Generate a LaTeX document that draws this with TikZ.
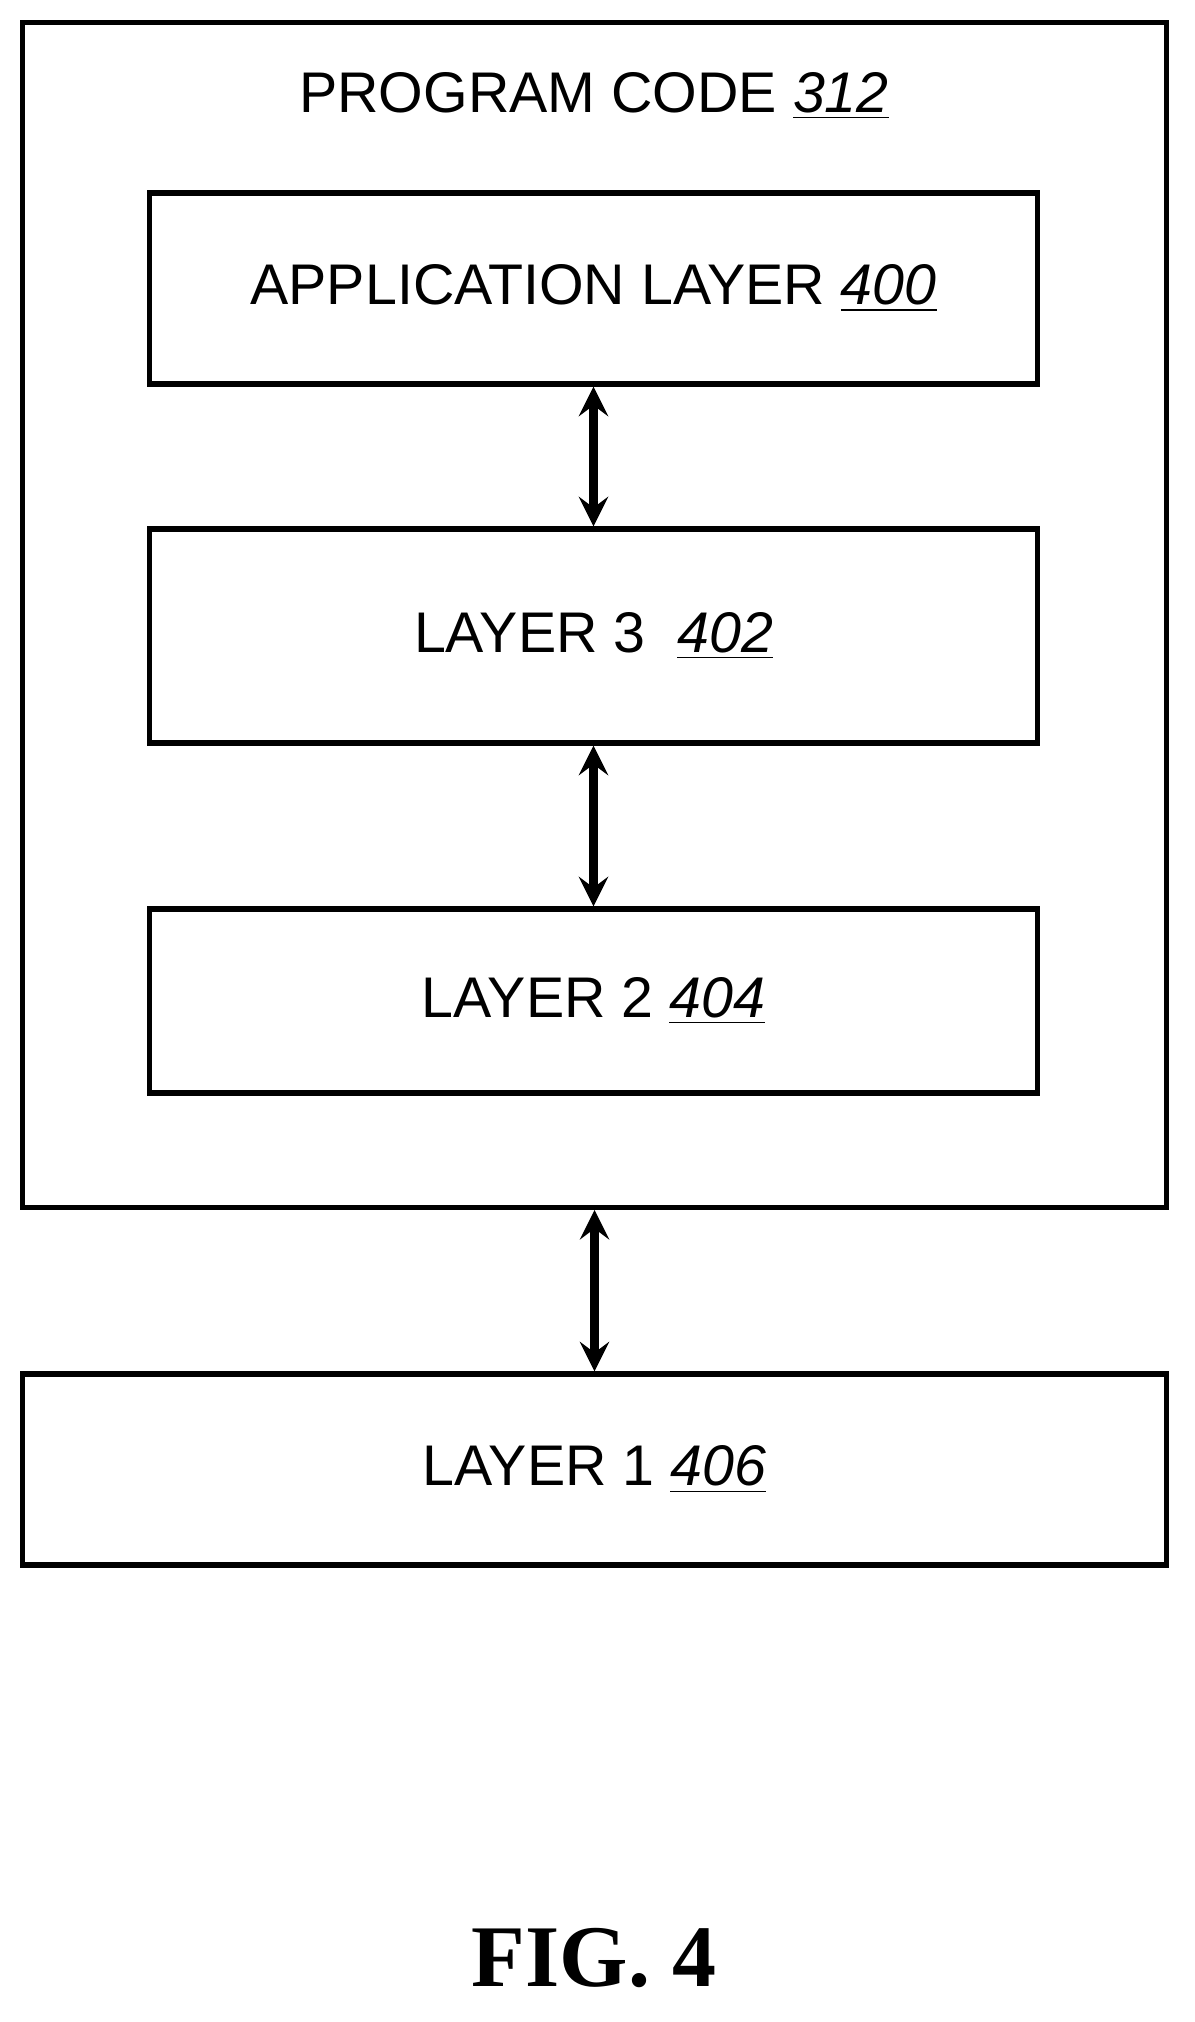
\documentclass[tikz,border=0pt]{standalone}
\usepackage{fontspec}
\setmainfont{Liberation Sans}
\newfontfamily\figfont{Liberation Serif}
\usetikzlibrary{arrows, positioning}
\tikzstyle{BOX}   = [draw=black,       % color for LINES
                     line width=1.5pt, % control line width.
                     rectangle,        % Box shape
                     inner sep=0pt,
                     text centered,
                     font=\fontsize{16.3}{0}\selectfont]
\tikzstyle{ARROW}  = [line width=2.6pt, <->, >=stealth]
\newcommand{\refnum}[1]{\underline{\textit{#1}}}

\begin{document}
\begin{tikzpicture}[x=0.01cm, y=-0.01cm]
		\useasboundingbox (0,0) rectangle (1194,2022);
		
		% Program code frame
		\node(prog)[BOX, minimum width=11.43cm, minimum height=11.84cm] at (594.5,615) {};
		\node(title)[font=\fontsize{16.3}{0}\selectfont] at (594,96) {PROGRAM CODE \refnum{312}};
		
		% Layers inside
		\node(app)[BOX, minimum width=8.87cm, minimum height=1.91cm] at (593.5,288.5)
		{
			APPLICATION LAYER \refnum{400}
		};
		\node(lthree)[BOX, minimum width=8.87cm, minimum height=2.14cm] at (593.5,636)
		{
			LAYER 3\ \ \refnum{402}
		};
		\node(ltwo)[BOX, minimum width=8.87cm, minimum height=1.84cm] at (593.5,1001)
		{
			LAYER 2 \refnum{404}
		};
		
		% Layer 1 outside
		\node(lone)[BOX, minimum width=11.43cm, minimum height=1.91cm] at (594.5,1469.5)
		{
			LAYER 1 \refnum{406}
		};
		
		% Arrows between layers
		\draw[ARROW] (app.south) -- (lthree.north);
		\draw[ARROW] (lthree.south) -- (ltwo.north);
		\draw[ARROW] (prog.south) -- (lone.north);
		
		% Caption
		\node(fig)[font=\figfont\bfseries\fontsize{25}{0}\selectfont] at (594,1958) {FIG. 4};
\end{tikzpicture}
\end{document}
